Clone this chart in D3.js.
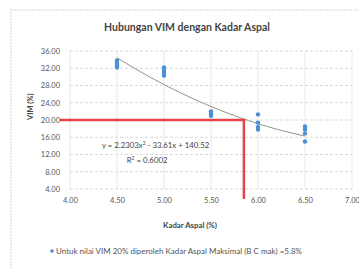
<!DOCTYPE html>
<html>
<head>
<meta charset="utf-8">
<script src="https://cdn.jsdelivr.net/npm/d3@7"></script>
<style>
  body { margin: 0; background: #fff; }
  text { font-family: Lato, "Open Sans", sans-serif; }
</style>
</head>
<body>
<script>
//Data
var kadarAspal = [4.5, 4.5, 4.5, 4.5, 5.0, 5.0, 5.0, 5.0, 5.5, 5.5, 5.5, 6.0, 6.0, 6.0, 6.0, 6.5, 6.5, 6.5, 6.5];
var vim = [33.8, 33.2, 32.7, 32.2, 32.2, 31.5, 30.9, 30.3, 22.0, 21.5, 21.0, 21.3, 19.4, 18.4, 17.8, 18.5, 17.8, 16.9, 15.0];
var xTicks = [4.0, 4.5, 5.0, 5.5, 6.0, 6.5, 7.0];
var yTicks = [4, 8, 12, 16, 20, 24, 28, 32, 36];
var trendCoef = [2.2303, -33.61, 140.52];
var targetVim = 20;
var targetKadar = 5.85;

//Define Margin
var W = 359, H = 270;
var margin = { left: 70, right: 7, top: 51, bottom: 81 },
    width = W - margin.left - margin.right,
    height = H - margin.top - margin.bottom;

var svg = d3.select("body")
    .append("svg")
    .attr("width", W)
    .attr("height", H);

//chart border
svg.append("rect")
    .attr("x", 11).attr("y", 10)
    .attr("width", W).attr("height", H)
    .attr("fill", "none")
    .attr("stroke", "#d4d4d4")
    .attr("stroke-dasharray", "2,1");

var x = d3.scaleLinear().domain([4, 7]).range([0, width]);
var y = d3.scaleLinear().domain([4, 36]).range([height, 0]);

var g = svg.append("g")
    .attr("transform", "translate(" + margin.left + "," + margin.top + ")");

//gridlines
g.selectAll(".hgrid")
    .data(yTicks)
    .enter().append("line")
    .attr("x1", 0).attr("x2", width)
    .attr("y1", function (d) { return y(d); })
    .attr("y2", function (d) { return y(d); })
    .attr("stroke", "#cfcfcf")
    .attr("stroke-width", 0.8)
    .attr("stroke-dasharray", "3,2");

g.selectAll(".vgrid")
    .data(xTicks)
    .enter().append("line")
    .attr("y1", 0).attr("y2", height)
    .attr("x1", function (d) { return x(d); })
    .attr("x2", function (d) { return x(d); })
    .attr("stroke", "#e2e2e2")
    .attr("stroke-width", 0.8);

//axes
var yAxis = g.append("g")
    .call(d3.axisLeft(y).tickValues(yTicks).tickSize(0).tickPadding(10).tickFormat(d3.format(".2f")));
yAxis.select(".domain").remove();
yAxis.selectAll("text").attr("font-size", 7.5).attr("fill", "#555");

var xAxis = g.append("g")
    .attr("transform", "translate(0," + height + ")")
    .call(d3.axisBottom(x).tickValues(xTicks).tickSize(0).tickPadding(9).tickFormat(d3.format(".2f")));
xAxis.select(".domain").remove();
xAxis.selectAll("text").attr("font-size", 7.5).attr("fill", "#555");

//trendline
var xs = d3.range(4.5, 6.5001, 0.05);
var line = d3.line()
    .x(function (d) { return x(d); })
    .y(function (d) { return y(trendCoef[0] * d * d + trendCoef[1] * d + trendCoef[2]); });
g.append("path")
    .datum(xs)
    .attr("d", line)
    .attr("fill", "none")
    .attr("stroke", "#8f9486")
    .attr("stroke-width", 1);

//points
g.selectAll(".pt")
    .data(kadarAspal)
    .enter().append("circle")
    .attr("cx", function (d) { return x(d); })
    .attr("cy", function (d, i) { return y(vim[i]); })
    .attr("r", 2.2)
    .attr("fill", "#4a8fd6");

//red guide line
var red = d3.line()([[-10, y(targetVim)], [x(targetKadar), y(targetVim)], [x(targetKadar), height + 10]]);
g.append("path")
    .attr("d", red)
    .attr("fill", "none")
    .attr("stroke", "#e8424c")
    .attr("stroke-width", 2.5);

//equation
g.append("text")
    .attr("x", x(4.34)).attr("y", y(13.6))
    .attr("font-size", 7.8).attr("fill", "#444")
    .html("y = 2.2303x<tspan dy='-3' font-size='5'>2</tspan><tspan dy='3'> - 33.61x + 140.52</tspan>");
g.append("text")
    .attr("x", x(4.82)).attr("y", y(10.0))
    .attr("text-anchor", "middle")
    .attr("font-size", 7.8).attr("fill", "#444")
    .html("R<tspan dy='-3' font-size='5'>2</tspan><tspan dy='3'> = 0.6002</tspan>");

//titles
svg.append("text")
    .attr("x", 187).attr("y", 31)
    .attr("text-anchor", "middle")
    .attr("font-size", 10.5).attr("font-weight", "bold").attr("fill", "#444")
    .text("Hubungan VIM dengan Kadar Aspal");

svg.append("text")
    .attr("transform", "translate(33," + (margin.top + y(24) + 4) + ") rotate(-90)")
    .attr("text-anchor", "middle")
    .attr("font-size", 7.5).attr("font-weight", "bold").attr("fill", "#444")
    .text("VIM (%)");

svg.append("text")
    .attr("x", 190).attr("y", 228)
    .attr("text-anchor", "middle")
    .attr("font-size", 7.8).attr("font-weight", "bold").attr("fill", "#444")
    .text("Kadar Aspal (%)");

//legend
svg.append("circle")
    .attr("cx", 52).attr("cy", 251)
    .attr("r", 1.8)
    .attr("fill", "#4a8fd6");
svg.append("text")
    .attr("x", 56).attr("y", 254)
    .attr("font-size", 8).attr("fill", "#555")
    .text("Untuk nilai VIM 20% diperoleh Kadar Aspal Maksimal (B C mak) =5.8%");
</script>
</body>
</html>
